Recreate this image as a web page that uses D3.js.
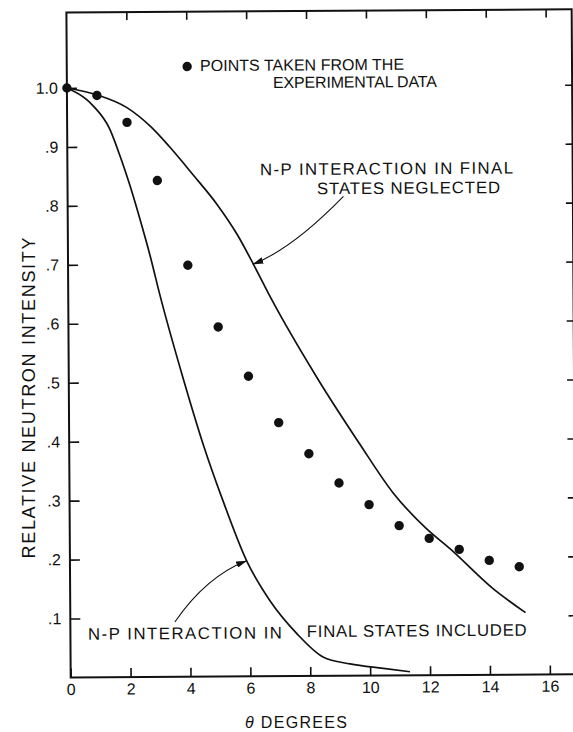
<!DOCTYPE html>
<html>
<head>
<meta charset="utf-8">
<script src="https://cdn.jsdelivr.net/npm/d3@7"></script>
<style>
  body { margin: 0; background: #fff; }
  svg { display: block; }
</style>
</head>
<body>
<svg></svg>
<script>
let width = 573, height = 732;

// measured points (theta in degrees, relative intensity)
const pointTheta = [0, 1, 2, 3, 4, 5, 6, 7, 8, 9, 10, 11, 12, 13, 14, 15];
const pointIntensity = [1.0, 0.987, 0.941, 0.842, 0.698, 0.593, 0.509, 0.430, 0.377, 0.327, 0.290, 0.254, 0.232, 0.213, 0.194, 0.183];

// curve: N-P interaction in final states neglected
const neglectedTheta = [0, 1.0, 2.0, 2.8, 3.4, 4.2, 5.0, 5.65, 6.2, 6.75, 8.3, 9.7, 10.8, 11.9, 12.7, 14.1, 15.2];
const neglectedIntensity = [1.0, 0.988, 0.966, 0.933, 0.9, 0.851, 0.8, 0.75, 0.698, 0.643, 0.505, 0.393, 0.31, 0.249, 0.214, 0.147, 0.105];

// curve: N-P interaction in final states included
const includedTheta = [0, 0.66, 0.88, 1.43, 1.76, 2.09, 2.41, 2.74, 3.06, 3.82, 4.48, 5.13, 5.9, 6.67, 7.56, 8.43, 9.33, 10.44, 11.33];
const includedIntensity = [1.0, 0.98, 0.969, 0.929, 0.884, 0.833, 0.777, 0.715, 0.648, 0.506, 0.393, 0.297, 0.196, 0.128, 0.072, 0.032, 0.02, 0.012, 0.006];

// tick labels
const xTicks = [0, 2, 4, 6, 8, 10, 12, 14, 16];
const topTicks = [2, 4, 6, 8, 10, 12, 14, 16];
const yTicks = [0.1, 0.2, 0.3, 0.4, 0.5, 0.6, 0.7, 0.8, 0.9, 1.0];

const font = "'Liberation Sans', Arial, sans-serif";
const ink = "#111";

let svg = d3.select("svg")
    .attr("width", width)
    .attr("height", height);

// plot origin and scales
const x0 = 70.7, y0 = 677.5;
const xMax = 16.87, yMax = 1.128;
let x = d3.scaleLinear().domain([0, xMax]).range([x0, x0 + xMax * 29.95]);
let y = d3.scaleLinear().domain([0, yMax]).range([y0, y0 - 665]);

// the original figure sits slightly tilted on the page
let plot = svg.append("g")
    .attr("transform", `rotate(-0.37, ${x0}, ${y0})`);

// frame
plot.append("rect")
    .attr("x", x(0))
    .attr("y", y(yMax))
    .attr("width", x(xMax) - x(0))
    .attr("height", y(0) - y(yMax))
    .attr("fill", "none")
    .attr("stroke", ink)
    .attr("stroke-width", 2);

function styleAxis(g) {
    g.select(".domain").remove();
    g.selectAll(".tick line").attr("stroke", ink).attr("stroke-width", 1.6);
    g.selectAll(".tick text").attr("fill", ink);
    g.attr("font-family", font).attr("font-size", 16);
}

// bottom axis
plot.append("g")
    .attr("transform", `translate(0,${y0})`)
    .call(d3.axisBottom(x).tickValues(xTicks).tickSize(-9).tickPadding(6).tickFormat(d3.format("d")))
    .call(styleAxis);

// left axis
plot.append("g")
    .attr("transform", `translate(${x0},0)`)
    .call(d3.axisLeft(y).tickValues(yTicks).tickSize(-10).tickPadding(9)
        .tickFormat(d => d === 1 ? "1.0" : "." + Math.round(d * 10)))
    .call(styleAxis);

// top ticks
plot.append("g")
    .attr("transform", `translate(0,${y(yMax)})`)
    .call(d3.axisTop(x).tickValues(topTicks).tickSize(-8).tickFormat(""))
    .call(styleAxis);

// right ticks
plot.append("g")
    .attr("transform", `translate(${x(xMax)},0)`)
    .call(d3.axisRight(y).tickValues(yTicks).tickSize(-7).tickFormat(""))
    .call(styleAxis);

// curves
let line = d3.line()
    .x(d => x(d[0]))
    .y(d => y(d[1]))
    .curve(d3.curveMonotoneX);

plot.append("path")
    .datum(d3.zip(neglectedTheta, neglectedIntensity))
    .attr("d", line)
    .attr("fill", "none")
    .attr("stroke", ink)
    .attr("stroke-width", 1.7);

plot.append("path")
    .datum(d3.zip(includedTheta, includedIntensity))
    .attr("d", line)
    .attr("fill", "none")
    .attr("stroke", ink)
    .attr("stroke-width", 1.7);

// experimental points
plot.append("g")
    .selectAll("circle")
    .data(d3.zip(pointTheta, pointIntensity))
    .enter()
    .append("circle")
    .attr("cx", d => x(d[0]))
    .attr("cy", d => y(d[1]))
    .attr("r", 4.7)
    .attr("fill", ink);

// arrows
svg.append("defs").append("marker")
    .attr("id", "head")
    .attr("markerUnits", "userSpaceOnUse")
    .attr("viewBox", "0 0 10 6")
    .attr("markerWidth", 11)
    .attr("markerHeight", 6.6)
    .attr("refX", 9.6)
    .attr("refY", 3)
    .attr("orient", "auto")
    .append("path")
    .attr("d", "M0,0 L10,3 L0,6 Z")
    .attr("fill", ink);

const arrows = [
    {from: [9.21, 0.813], ctrl: [7.48, 0.724], to: [6.17, 0.699]},
    {from: [3.49, 0.093], ctrl: [4.55, 0.170], to: [5.9, 0.196]}
];

arrows.forEach(a => {
    let p = d3.path();
    p.moveTo(x(a.from[0]), y(a.from[1]));
    p.quadraticCurveTo(x(a.ctrl[0]), y(a.ctrl[1]), x(a.to[0]), y(a.to[1]));
    plot.append("path")
        .attr("d", p.toString())
        .attr("fill", "none")
        .attr("stroke", ink)
        .attr("stroke-width", 1.1)
        .attr("marker-end", "url(#head)");
});

// legend dot + annotation text
plot.append("circle")
    .attr("cx", x(4.02))
    .attr("cy", y(1.035))
    .attr("r", 4.7)
    .attr("fill", ink);

const notes = [
    {text: "POINTS TAKEN FROM THE", at: [4.45, 1.0272], w: 204, size: 16},
    {text: "EXPERIMENTAL DATA", at: [6.88, 0.9976], w: 164, size: 16},
    {text: "N-P INTERACTION IN FINAL", at: [6.43, 0.850], w: 253, size: 16.8},
    {text: "STATES NEGLECTED", at: [8.33, 0.817], w: 183, size: 16.8},
    {text: "N-P INTERACTION IN", at: [0.585, 0.064], w: 194, size: 16.8},
    {text: "FINAL STATES INCLUDED", at: [7.89, 0.066], w: 220, size: 16.8}
];

plot.append("g")
    .selectAll("text")
    .data(notes)
    .enter()
    .append("text")
    .attr("x", d => x(d.at[0]))
    .attr("y", d => y(d.at[1]))
    .attr("textLength", d => d.w)
    .attr("lengthAdjust", "spacing")
    .attr("font-family", font)
    .attr("font-size", d => d.size)
    .attr("fill", ink)
    .text(d => d.text);

// axis titles
svg.append("text")
    .attr("transform", "translate(34.8, 398) rotate(-90)")
    .attr("text-anchor", "middle")
    .attr("textLength", 321)
    .attr("lengthAdjust", "spacing")
    .attr("font-family", font)
    .attr("font-size", 18)
    .attr("fill", ink)
    .text("RELATIVE NEUTRON INTENSITY");

let xTitle = svg.append("text")
    .attr("x", 245)
    .attr("y", 728)
    .attr("textLength", 102)
    .attr("lengthAdjust", "spacing")
    .attr("font-family", font)
    .attr("font-size", 16)
    .attr("fill", ink);
xTitle.append("tspan").attr("font-style", "italic").text("θ");
xTitle.append("tspan").text(" DEGREES");
</script>
</body>
</html>
